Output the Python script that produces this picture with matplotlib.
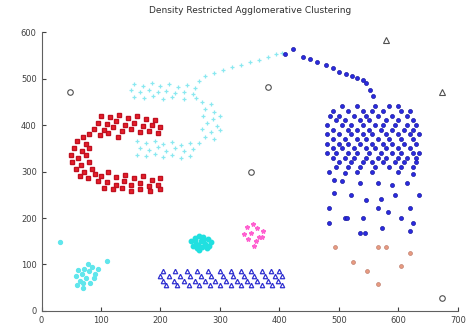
import numpy as np
import matplotlib.pyplot as plt

# red C-shaped cluster
red_pts = [(100, 420), (115, 418), (130, 422), (145, 415), (160, 420), (175, 412), (190, 410),
           (95, 405), (110, 402), (125, 408), (140, 400), (155, 405), (170, 398), (185, 400), (200, 395),
           (88, 392), (105, 390), (120, 395), (135, 388), (150, 392), (165, 385), (180, 388), (195, 382),
           (80, 380), (98, 378), (112, 382), (128, 375),
           (70, 375), (60, 365), (75, 360), (55, 350), (68, 345), (80, 350), (50, 335), (62, 330),
           (75, 335), (52, 320), (66, 315), (80, 320), (58, 305), (72, 300), (85, 305), (65, 290), (78, 285),
           (90, 295), (100, 290), (112, 298), (125, 288), (140, 292), (155, 285), (170, 290), (185, 282), (200, 285),
           (95, 280), (110, 278), (125, 272), (138, 280), (150, 270), (165, 275), (180, 268), (195, 270),
           (105, 265), (120, 262), (135, 265), (150, 258), (165, 262), (182, 258), (200, 262)]

# light cyan sparse cluster (arm + arc)
cyan_pts = [(155, 488), (170, 485), (185, 490), (200, 484), (215, 488), (230, 482), (245, 486), (258, 480),
            (150, 475), (165, 472), (180, 476), (195, 470), (210, 474), (225, 468), (240, 472), (255, 466),
            (155, 460), (172, 458), (188, 462), (205, 456), (220, 460), (240, 455), (260, 458),
            (265, 495), (275, 505), (290, 512), (305, 518), (320, 525), (335, 530), (350, 536),
            (365, 540), (380, 546), (395, 552), (405, 556),
            (270, 450), (285, 445), (275, 435), (290, 428), (272, 420), (288, 412), (300, 420),
            (278, 405), (295, 398), (270, 392), (285, 385), (300, 390), (275, 375), (290, 370), (265, 362),
            (160, 365), (175, 362), (190, 366), (205, 360), (220, 364), (235, 358), (250, 362),
            (165, 350), (180, 347), (195, 352), (210, 345), (225, 350), (240, 344), (255, 348),
            (160, 336), (175, 333), (190, 338), (205, 332), (220, 336), (235, 330), (250, 334)]

# blue arc + dense cluster, rows listed by y
blue_arc = [(410, 552), (422, 563), (440, 546), (452, 543), (464, 535), (478, 530), (490, 522),
            (500, 514), (512, 510), (522, 505), (531, 501), (540, 496), (545, 490), (553, 476), (558, 462)]
blue_rows = {
    440: [505, 530, 560, 585, 600],
    430: [490, 515, 540, 555, 575, 605, 620],
    420: [485, 500, 525, 545, 565, 590, 615],
    410: [495, 510, 535, 550, 580, 600, 625],
    400: [480, 505, 520, 540, 560, 575, 595, 615, 630],
    390: [490, 515, 530, 550, 570, 590, 610, 625],
    380: [480, 500, 520, 540, 555, 580, 600, 620, 635],
    370: [490, 510, 530, 545, 565, 585, 605, 625],
    360: [480, 500, 515, 535, 555, 575, 590, 610, 630],
    350: [490, 505, 525, 545, 560, 580, 600, 620],
    340: [480, 495, 515, 530, 550, 570, 590, 605, 625, 635],
    330: [490, 510, 525, 545, 565, 580, 600, 615, 630],
    320: [500, 520, 540, 555, 575, 595, 610, 630],
    310: [495, 515, 535, 560, 585, 605, 625],
}
blue_sparse = [(483, 299), (511, 297), (531, 299), (555, 300), (600, 298), (625, 295),
               (491, 282), (505, 280), (536, 275), (565, 276), (590, 271), (615, 275),
               (491, 254), (545, 239), (570, 240), (595, 250), (634, 250), (520, 250),
               (483, 222), (511, 200), (565, 222), (583, 213), (620, 222),
               (483, 189), (514, 200), (540, 200), (604, 200), (624, 189),
               (536, 168), (544, 168), (573, 178), (620, 172)]

orange_pts = [(494, 138), (565, 138), (580, 138), (619, 125), (524, 105), (548, 86), (604, 97), (565, 58)]

pink_pts = [(345, 180), (355, 188), (362, 178), (340, 165), (352, 168), (365, 160),
            (372, 172), (348, 155), (360, 150), (370, 160), (358, 140)]

cyan2_pts = [(252, 150), (258, 158), (265, 162), (272, 160), (280, 155), (285, 148), (260, 145),
             (268, 150), (275, 145), (282, 140), (255, 140), (262, 136), (270, 138), (278, 135),
             (265, 132), (258, 152), (272, 152), (263, 142)]

tri_rows = {
    85: [205, 225, 245, 262, 280, 300, 318, 335, 352, 370, 385, 400],
    75: [200, 215, 232, 250, 268, 285, 305, 322, 340, 358, 375, 392, 405],
    65: [205, 222, 240, 258, 275, 292, 310, 328, 345, 362, 380, 398],
    55: [210, 228, 248, 265, 283, 300, 318, 335, 352, 370, 388, 405],
}

cyan3_pts = [(60, 55), (65, 65), (70, 60), (58, 75), (68, 80), (75, 72), (80, 85), (72, 90),
             (85, 95), (90, 80), (78, 100), (62, 88), (88, 70), (70, 50), (82, 60), (95, 90),
             (31, 148), (110, 108)]

out_circles = [(48, 471), (381, 482), (353, 299), (673, 28)]
out_triangles = [(580, 583), (673, 471)]


def xy(pts):
    a = np.array(pts, dtype=float)
    return a[:, 0], a[:, 1]


def rows_to_pts(rows):
    return [(x, y) for y, xs in rows.items() for x in xs]


fig = plt.figure(figsize=(4.72, 3.27), dpi=100)
ax = fig.add_axes([0.088, 0.049, 0.882, 0.853])

x, y = xy(red_pts)
ax.plot(x, y, 's', color='#e8202a', ms=2.4, mec='#c01020')
x, y = xy(cyan_pts)
ax.plot(x, y, '+', color='#8ae8f0', ms=3.2, mew=0.9)
x, y = xy(blue_arc + rows_to_pts(blue_rows) + blue_sparse)
ax.plot(x, y, 'o', color='#2a2ae0', ms=2.9, mec='#1a1aa0', mew=0.5)
x, y = xy(orange_pts)
ax.plot(x, y, 'o', color='#e89a80', ms=2.8, mec='#c08070', mew=0.5)
x, y = xy(pink_pts)
ax.plot(x, y, '*', color='#ff60d0', ms=3.2)
x, y = xy(cyan2_pts)
ax.plot(x, y, 'o', color='#20e0e0', ms=3.2)
x, y = xy(rows_to_pts(tri_rows))
ax.plot(x, y, '^', mfc='none', mec='#3030d0', ms=3.2, mew=0.9)
x, y = xy(cyan3_pts)
ax.plot(x, y, 'o', color='#60e6ec', ms=2.8)
x, y = xy(out_circles)
ax.plot(x, y, 'o', mfc='none', mec='#505050', ms=4.0, mew=0.8)
x, y = xy(out_triangles)
ax.plot(x, y, '^', mfc='none', mec='#505050', ms=4.0, mew=0.8)

ax.set_xlim(0, 700)
ax.set_ylim(0, 600)
ax.set_xticks(range(0, 701, 100))
ax.set_yticks(range(0, 601, 100))
ax.tick_params(direction='in', length=3, labelsize=6, colors='#404040')
for s in ['top', 'right']:
    ax.spines[s].set_visible(False)
for s in ['left', 'bottom']:
    ax.spines[s].set_color('#606060')
ax.set_title('Density Restricted Agglomerative Clustering', fontsize=6.5, color='#303030', pad=14)

fig.savefig('out.png', dpi=100)
